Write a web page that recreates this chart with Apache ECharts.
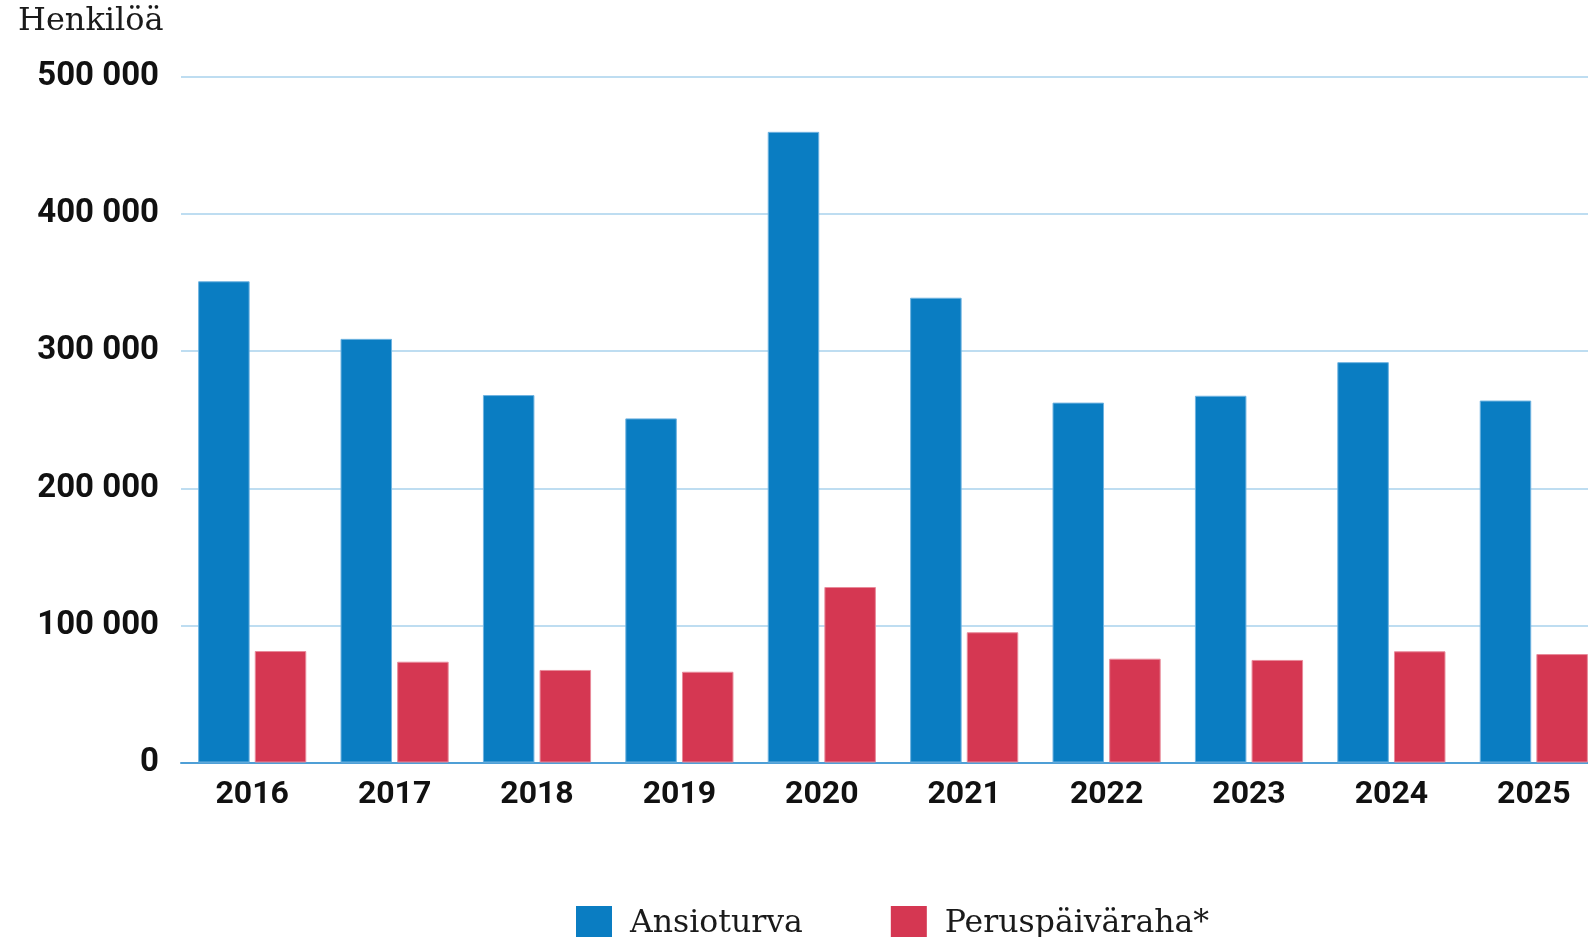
<!DOCTYPE html>
<html>
<head>
<meta charset="utf-8">
<script src="https://cdn.jsdelivr.net/npm/echarts@6/dist/echarts.min.js"></script>
<style>
  html, body { margin: 0; padding: 0; background: #fff; }
  #chart { width: 1588px; height: 937px; }
</style>
</head>
<body>
<div id="chart"></div>
<script>
// vuodet ja henkilömäärät
const years = ["2016", "2017", "2018", "2019", "2020", "2021", "2022", "2023", "2024", "2025"];
const ansioturva = [351000, 309000, 268000, 251000, 460000, 339000, 262500, 267500, 292000, 264000];
const peruspaivaraha = [81300, 73500, 67500, 66200, 128000, 95000, 75700, 74800, 81100, 79100];

const BLUE = "#0a7dc2";
const RED = "#d53752";

const myChart = echarts.init(document.getElementById("chart"));

const option = {
  backgroundColor: "#fff",
  animation: false,
  title: {
    text: "Henkilöä",
    left: 13,
    top: 1,
    textStyle: {
      fontFamily: "DejaVu Serif",
      fontWeight: "normal",
      fontSize: 32,
      color: "#1a1a1a",
    },
  },
  legend: {
    left: 571,
    top: 901,
    itemWidth: 36,
    itemHeight: 36,
    itemGap: 88,
    icon: "rect",
    itemStyle: { borderWidth: 0 },
    textStyle: {
      fontFamily: "DejaVu Serif",
      fontSize: 31.5,
      color: "#1a1a1a",
      padding: [0, 0, 0, 13],
    },
    data: ["Ansioturva", "Peruspäiväraha*"],
  },
  grid: {
    left: 181,
    top: 77,
    width: 1424,
    height: 685.5,
    outerBoundsMode: "none",
  },
  xAxis: {
    type: "category",
    data: years,
    axisTick: { show: false },
    axisLine: {
      lineStyle: { color: "#4f9fd6", width: 2 },
    },
    axisLabel: {
      margin: 16,
      fontFamily: "Roboto",
      fontWeight: "bold",
      fontSize: 32,
      color: "#111",
    },
  },
  yAxis: {
    type: "value",
    min: 0,
    max: 500000,
    interval: 100000,
    axisLine: { show: false },
    axisTick: { show: false },
    splitLine: {
      lineStyle: { color: "#a9d2ec", width: 1.5 },
    },
    axisLabel: {
      margin: 22,
      fontFamily: "Roboto",
      fontWeight: "bold",
      fontSize: 33,
      color: "#111",
      formatter: (v) => String(v).replace(/\B(?=(\d{3})+(?!\d))/g, " "),
    },
  },
  series: [
    {
      name: "Ansioturva",
      type: "bar",
      data: ansioturva,
      barWidth: 51.5,
      barGap: "10%",
      itemStyle: {
        color: BLUE,
        borderColor: "#6fb3e0",
        borderWidth: 1,
      },
    },
    {
      name: "Peruspäiväraha*",
      type: "bar",
      data: peruspaivaraha,
      barWidth: 51.5,
      itemStyle: {
        color: RED,
        borderColor: "#e88a9a",
        borderWidth: 1,
      },
    },
  ],
};

myChart.setOption(option);
</script>
</body>
</html>
